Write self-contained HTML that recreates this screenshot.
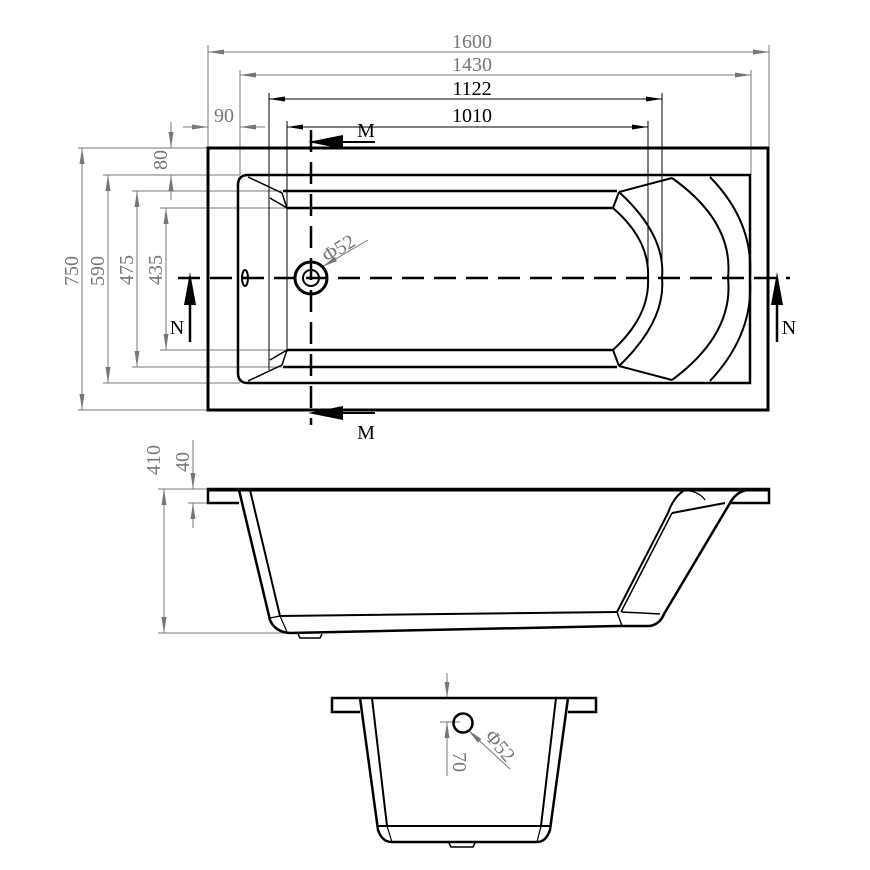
<!DOCTYPE html>
<html><head><style>html,body{margin:0;padding:0;background:#fff}svg{display:block}</style></head>
<body>
<svg width="870" height="870" viewBox="0 0 870 870" xmlns="http://www.w3.org/2000/svg" font-family="Liberation Serif, serif">
<defs>
<marker id="ag" markerWidth="16" markerHeight="8" refX="16" refY="4" orient="auto-start-reverse" markerUnits="userSpaceOnUse"><path d="M0,1.5 L16,4 L0,6.5 Z" fill="#777"/></marker>
<marker id="ab" markerWidth="16" markerHeight="8" refX="16" refY="4" orient="auto-start-reverse" markerUnits="userSpaceOnUse"><path d="M0,1.5 L16,4 L0,6.5 Z" fill="#000"/></marker>
</defs>
<rect width="870" height="870" fill="#fff"/>

<g stroke="#777" stroke-width="1" fill="none">
<line x1="208" y1="45" x2="208" y2="148"/><line x1="769" y1="45" x2="769" y2="148"/>
<line x1="208" y1="52" x2="769" y2="52" marker-start="url(#ag)" marker-end="url(#ag)"/>
<line x1="240" y1="70" x2="240" y2="175"/><line x1="751" y1="70" x2="751" y2="175"/>
<line x1="240" y1="75" x2="751" y2="75" marker-start="url(#ag)" marker-end="url(#ag)"/>
<line x1="183" y1="127" x2="208" y2="127" marker-end="url(#ag)"/>
<line x1="265" y1="127" x2="240" y2="127" marker-end="url(#ag)"/>
<line x1="78" y1="148" x2="208" y2="148"/><line x1="78" y1="410" x2="208" y2="410"/>
<line x1="82" y1="148" x2="82" y2="410" marker-start="url(#ag)" marker-end="url(#ag)"/>
<line x1="103" y1="175" x2="240" y2="175"/><line x1="103" y1="383" x2="240" y2="383"/>
<line x1="108" y1="175" x2="108" y2="383" marker-start="url(#ag)" marker-end="url(#ag)"/>
<line x1="132" y1="191" x2="282" y2="191"/><line x1="132" y1="367" x2="282" y2="367"/>
<line x1="137" y1="191" x2="137" y2="367" marker-start="url(#ag)" marker-end="url(#ag)"/>
<line x1="160" y1="208" x2="287" y2="208"/><line x1="160" y1="350" x2="287" y2="350"/>
<line x1="166" y1="208" x2="166" y2="350" marker-start="url(#ag)" marker-end="url(#ag)"/>
<line x1="171" y1="122" x2="171" y2="148" marker-end="url(#ag)"/>
<line x1="171" y1="200" x2="171" y2="175" marker-end="url(#ag)"/>
<line x1="368" y1="240" x2="322" y2="267" marker-end="url(#ag)"/>
</g>
<g stroke="#000" stroke-width="1" fill="none">
<line x1="269" y1="93" x2="269" y2="370"/><line x1="662" y1="93" x2="662" y2="290"/>
<line x1="269" y1="99" x2="662" y2="99" marker-start="url(#ab)" marker-end="url(#ab)"/>
<line x1="287" y1="121" x2="287" y2="352"/><line x1="648" y1="121" x2="648" y2="290"/>
<line x1="287" y1="127" x2="648" y2="127" marker-start="url(#ab)" marker-end="url(#ab)"/>
</g>
<g fill="#777" font-size="20" text-anchor="middle">
<text x="472" y="48">1600</text><text x="472" y="71">1430</text>
<text x="224" y="122">90</text>
<text transform="translate(78,271) rotate(-90)">750</text>
<text transform="translate(104,271) rotate(-90)">590</text>
<text transform="translate(133,270) rotate(-90)">475</text>
<text transform="translate(162,270) rotate(-90)">435</text>
<text transform="translate(167,160) rotate(-90)">80</text>
<text transform="translate(342,254) rotate(-32)">Φ52</text>
</g>
<g fill="#000" font-size="20" text-anchor="middle">
<text x="472" y="95">1122</text><text x="472" y="122">1010</text>
<text x="366" y="137">M</text><text x="366" y="439">M</text>
<text x="177" y="334">N</text><text x="789" y="334">N</text>
</g>

<g stroke="#000" fill="none">
<rect x="208" y="148" width="560" height="262" stroke-width="3"/>
<path d="M750,175 L248,175 Q238,175 238,185 L238,373 Q238,383 248,383 L750,383 Z" stroke-width="2.5"/>
<path d="M283,191 L617,191 M287,208 L613,208 M283,367 L617,367 M287,350 L613,350" stroke-width="2.5"/>
<path d="M248,177 L282,193 L287,208 M248,381 L282,365 L287,350 M270,198 L287,208 M270,360 L287,350" stroke-width="1.5"/>
<path d="M613,208 Q650,240 648,278 Q650,316 613,350" stroke-width="2"/>
<path d="M619,192 Q666,235 662,278 Q666,321 619,366" stroke-width="2"/>
<path d="M619,192 L672,178 M619,366 L672,380 M613,208 L619,192 M613,350 L619,366" stroke-width="2"/>
<path d="M672,178 Q734,222 728,278 Q734,334 672,380" stroke-width="2"/>
<path d="M710,177 Q754,222 750,278 Q754,334 710,381" stroke-width="2"/>
<ellipse cx="245" cy="278" rx="3" ry="8" stroke-width="2"/>
<circle cx="311" cy="278" r="16" stroke-width="3"/>
<circle cx="311" cy="278" r="8" stroke-width="2"/>
<line x1="178" y1="278" x2="790" y2="278" stroke-width="2.5" stroke-dasharray="22,10"/>
<line x1="311" y1="130" x2="311" y2="425" stroke-width="2.5" stroke-dasharray="22,10"/>
<line x1="335" y1="142" x2="375" y2="142" stroke-width="2"/>
<line x1="335" y1="413" x2="375" y2="413" stroke-width="2"/>
<line x1="190" y1="300" x2="190" y2="342" stroke-width="2.5"/>
<line x1="777" y1="300" x2="777" y2="342" stroke-width="2.5"/>
</g>
<g fill="#000">
<polygon points="308,142 343,135 343,149"/>
<polygon points="308,413 343,406 343,420"/>
<polygon points="190,272 184,305 196,305"/>
<polygon points="777,272 771,305 783,305"/>
</g>

<g stroke="#777" stroke-width="1" fill="none">
<line x1="158" y1="489" x2="208" y2="489"/>
<line x1="158" y1="633" x2="290" y2="633"/>
<line x1="188" y1="503" x2="208" y2="503"/>
<line x1="164" y1="489" x2="164" y2="633" marker-start="url(#ag)" marker-end="url(#ag)"/>
<line x1="193" y1="440" x2="193" y2="489" marker-end="url(#ag)"/>
<line x1="193" y1="528" x2="193" y2="503" marker-end="url(#ag)"/>
</g>
<g fill="#777" font-size="20" text-anchor="middle">
<text transform="translate(160,460) rotate(-90)">410</text>
<text transform="translate(189,462) rotate(-90)">40</text>
</g>
<g stroke="#000" fill="none">
<path d="M239,503 L208,503 L208,489 L769,489 L769,503 L730,503" stroke-width="2.5"/>
<line x1="208" y1="490" x2="769" y2="490" stroke-width="3"/>
<path d="M239,490 L270,620 Q275,632 290,633 L617,626 L650,626 Q660,624 664,614 L730,503 Q736,492 747,490" stroke-width="2.5"/>
<path d="M250,490 L280,616 L617,612" stroke-width="2"/>
<path d="M270,618 L280,616 M280,616 L287,632" stroke-width="1.2"/>
<path d="M617,612 L668,513 Q674,496 685,490" stroke-width="2"/>
<path d="M621,612 L672,513 M617,612 L622,626 L617,626 M622,612 L660,614" stroke-width="1.5"/>
<path d="M672,513 L725,503" stroke-width="2"/>
<path d="M685,490 Q700,492 705,500 M700,490 L745,490" stroke-width="1.2"/>
<path d="M298,634 L300,638 L320,638 L322,634" stroke-width="1.5"/>
</g>

<g stroke="#777" stroke-width="1" fill="none">
<line x1="447" y1="673" x2="447" y2="698" marker-end="url(#ag)"/>
<line x1="447" y1="745" x2="447" y2="722" marker-end="url(#ag)"/>
<line x1="447" y1="722" x2="447" y2="776"/>
<line x1="440" y1="722" x2="460" y2="722"/>
<line x1="510" y1="769" x2="468" y2="730" marker-end="url(#ag)"/>
</g>
<g fill="#777" font-size="20" text-anchor="middle">
<text transform="translate(453,762) rotate(90)">70</text>
<text transform="translate(495,750) rotate(50)">Φ52</text>
</g>
<g stroke="#000" fill="none">
<path d="M360,712 L332,712 L332,698 L596,698 L596,712 L568,712" stroke-width="2.5"/>
<path d="M360,698 L378,830 Q382,842 392,842 L537,842 Q546,842 550,830 L568,698" stroke-width="2.5"/>
<path d="M372,698 L387,826 M556,698 L541,826" stroke-width="2"/>
<path d="M378,826 L550,826" stroke-width="2"/>
<path d="M387,826 L392,842 M541,826 L537,842" stroke-width="1.2"/>
<path d="M449,843 L451,847 L473,847 L475,843" stroke-width="1.5"/>
<circle cx="463" cy="723" r="9.5" stroke-width="2.5"/>
</g>
</svg>
</body></html>
